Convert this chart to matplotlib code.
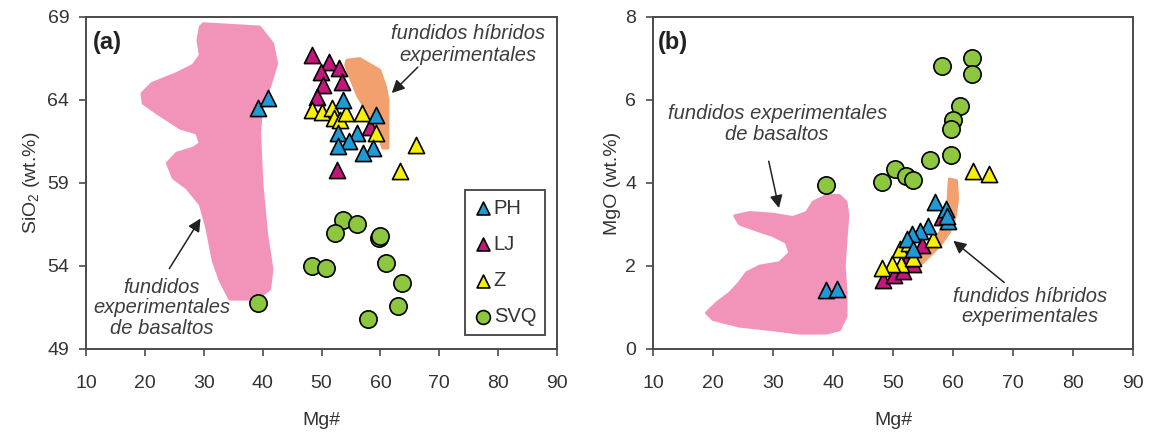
import numpy as np
import matplotlib.pyplot as plt
from matplotlib.patches import Polygon

plt.rcParams['font.family'] = ['Liberation Sans', 'DejaVu Sans']
plt.rcParams['mathtext.fontset'] = 'custom'
plt.rcParams['mathtext.rm'] = 'Liberation Sans'

# ---- panel (a): SiO2 vs Mg# ----
ph_a_mg = [39.2, 40.9, 53.7, 59.3, 52.8, 56.0, 54.6, 52.8, 58.8, 57.1]
ph_a_si = [63.5, 64.1, 64.0, 63.1, 62.0, 62.0, 61.5, 61.2, 61.1, 60.8]
lj_a_mg = [48.3, 51.2, 52.9, 49.9, 53.5, 50.2, 49.3, 52.6, 58.2]
lj_a_si = [66.7, 66.3, 65.9, 65.7, 65.1, 64.9, 64.2, 59.8, 62.4]
z_a_mg = [48.3, 50.1, 51.7, 52.2, 53.1, 54.2, 56.8, 59.3, 66.1, 63.3]
z_a_si = [63.4, 63.3, 63.5, 62.9, 62.8, 63.2, 63.2, 62.0, 61.3, 59.7]
svq_a_mg = [39.2, 53.7, 56.1, 52.3, 59.8, 60.0, 61.0, 48.3, 50.7, 63.6, 63.0, 57.9]
svq_a_si = [51.8, 56.8, 56.5, 56.0, 55.7, 55.8, 54.2, 54.0, 53.9, 53.0, 51.6, 50.8]

basalt_a_mg = [29.9, 39.5, 41.7, 42.4, 41.2, 39.9, 39.5, 39.9, 40.7, 41.6, 41.2, 39.0,
               34.4, 32.8, 31.6, 30.5, 29.4, 27.1, 24.8, 23.8, 25.4, 28.2, 29.4, 28.8,
               26.0, 22.1, 19.7, 19.5, 21.2, 25.4, 28.2, 29.4, 29.0, 29.4]
basalt_a_si = [68.6, 68.4, 67.4, 66.2, 64.8, 63.8, 62.0, 58.9, 55.9, 53.8, 52.6, 52.0,
               52.0, 53.1, 54.3, 56.3, 57.7, 58.7, 59.3, 60.2, 60.8, 61.1, 61.4, 62.0,
               62.3, 63.2, 63.8, 64.4, 65.0, 65.6, 66.1, 66.7, 67.6, 68.4]
hybrid_a_mg = [54.3, 56.5, 59.9, 60.9, 61.3, 61.3, 60.4, 59.6, 57.9, 56.2, 54.8, 54.1]
hybrid_a_si = [66.4, 66.5, 65.8, 64.8, 64.0, 61.1, 61.1, 62.0, 63.2, 64.2, 65.4, 66.1]

# ---- panel (b): MgO vs Mg# ----
ph_b_mg = [38.8, 40.6, 57.0, 58.9, 59.2, 55.9, 54.5, 53.1, 52.3, 53.4, 59.0]
ph_b_mgo = [1.41, 1.44, 3.53, 3.37, 3.09, 2.97, 2.84, 2.76, 2.64, 2.40, 3.20]
lj_b_mg = [48.3, 50.1, 51.7, 53.4, 58.1, 52.5, 54.8]
lj_b_mgo = [1.67, 1.79, 1.87, 2.04, 3.17, 2.20, 2.50]
z_b_mg = [63.3, 66.0, 56.7, 51.4, 49.8, 48.1, 51.2, 53.4, 52.6]
z_b_mgo = [4.30, 4.22, 2.64, 2.04, 2.04, 1.94, 2.40, 2.20, 2.55]
svq_b_mg = [58.1, 63.1, 63.1, 61.1, 60.0, 59.7, 59.7, 56.1, 50.4, 52.2, 53.4, 48.2, 38.9]
svq_b_mgo = [6.81, 7.01, 6.62, 5.86, 5.52, 5.31, 4.67, 4.56, 4.34, 4.18, 4.08, 4.02, 3.96]

basalt_b_mg = [23.6, 26.1, 30.0, 33.3, 35.6, 36.7, 38.9, 41.1, 42.2, 42.5, 42.2, 41.9,
               42.2, 42.2, 41.1, 38.9, 34.4, 30.0, 24.4, 20.0, 18.9, 20.6, 22.8, 24.4,
               25.6, 27.8, 31.1, 32.8, 32.2, 30.0, 26.7, 24.4]
basalt_b_mgo = [3.21, 3.29, 3.25, 3.17, 3.29, 3.54, 3.70, 3.70, 3.54, 3.21, 2.65, 2.00,
                1.35, 0.79, 0.46, 0.38, 0.38, 0.46, 0.55, 0.71, 0.87, 1.11, 1.35, 1.60,
                1.84, 2.00, 2.08, 2.32, 2.57, 2.73, 2.89, 3.01]
hybrid_b_mg = [59.4, 60.6, 60.8, 60.3, 59.4, 57.8, 56.1, 54.4, 53.3, 52.8, 54.4, 56.1,
               57.8, 58.6, 59.2, 59.3]
hybrid_b_mgo = [4.10, 4.06, 3.62, 3.13, 2.81, 2.48, 2.24, 2.00, 1.92, 2.08, 2.32, 2.57,
                2.81, 3.13, 3.62, 3.94]

x_ticks = [10, 20, 30, 40, 50, 60, 70, 80, 90]
si_ticks = [49, 54, 59, 64, 69]
mgo_ticks = [0, 2, 4, 6, 8]

c_ph = '#1F9AD6'
c_lj = '#C4177C'
c_z = '#F7F000'
c_svq = '#8DC63F'
c_pink = '#F293BA'
c_orange = '#F2A06E'
c_text = '#3C3C3C'
c_spine = '#4A4A4A'
note_size = 14.5


def style_axes(ax):
    for s in ax.spines.values():
        s.set_color(c_spine)
        s.set_linewidth(1.4)
    ax.tick_params(direction='out', length=5, width=1.2, color=c_spine,
                   labelsize=14, labelcolor='#333333')
    ax.tick_params(axis='x', pad=14)
    ax.tick_params(axis='y', pad=7)
    ax.set_xlim(10, 90)
    ax.set_xticks(x_ticks)
    ax.set_xlabel('Mg#', fontsize=14, color='#333333', labelpad=14)


def draw_points(ax, ph, lj, z, svq):
    ax.scatter(*lj, marker='^', s=135, c=c_lj, edgecolors='black', linewidths=1.2,
               zorder=3, label='LJ')
    ax.scatter(*z, marker='^', s=135, c=c_z, edgecolors='black', linewidths=1.2,
               zorder=4, label='Z')
    ax.scatter(*ph, marker='^', s=135, c=c_ph, edgecolors='black', linewidths=1.2,
               zorder=5, label='PH')
    ax.scatter(*svq, marker='o', s=155, c=c_svq, edgecolors='black', linewidths=1.2,
               zorder=3, label='SVQ')


def arrow(ax, tip, tail):
    ax.annotate('', xy=tip, xytext=tail,
                arrowprops=dict(arrowstyle='-|>', color='#222222', lw=1.1,
                                mutation_scale=19))


fig = plt.figure(figsize=(11.53, 4.37), dpi=100)
ax1 = fig.add_axes([0.0746, 0.2014, 0.4085, 0.7597])
ax2 = fig.add_axes([0.5663, 0.2014, 0.4163, 0.7597])

# panel (a)
ax1.add_patch(Polygon(np.column_stack([basalt_a_mg, basalt_a_si]), closed=True,
                      fc=c_pink, ec=c_pink, lw=2, joinstyle='round', zorder=1))
ax1.add_patch(Polygon(np.column_stack([hybrid_a_mg, hybrid_a_si]), closed=True,
                      fc=c_orange, ec=c_orange, lw=2, joinstyle='round', zorder=1))
draw_points(ax1, (ph_a_mg, ph_a_si), (lj_a_mg, lj_a_si), (z_a_mg, z_a_si),
            (svq_a_mg, svq_a_si))
style_axes(ax1)
ax1.set_ylim(49, 69)
ax1.set_yticks(si_ticks)
ax1.set_ylabel('SiO$_2$ (wt.%)', fontsize=14, color='#333333', labelpad=4)
ax1.text(0.014, 0.958, '(a)', transform=ax1.transAxes, fontsize=17,
         fontweight='bold', va='top', ha='left', color='#222222')

ax1.text(74.9, 68.6, 'fundidos híbridos\nexperimentales', ha='center', va='top',
         fontsize=note_size, style='italic', color=c_text, linespacing=1.2)
arrow(ax1, (61.6, 64.3), (66.7, 66.1))
ax1.text(22.9, 53.3, 'fundidos\nexperimentales\nde basaltos', ha='center', va='top',
         fontsize=note_size, style='italic', color=c_text, linespacing=1.1)
arrow(ax1, (29.7, 57.0), (23.9, 53.7))

handles, labels = ax1.get_legend_handles_labels()
order = [labels.index(k) for k in ['PH', 'LJ', 'Z', 'SVQ']]
leg = ax1.legend([handles[i] for i in order], [labels[i] for i in order],
                 loc='lower right', bbox_to_anchor=(0.975, 0.042), fontsize=14.5,
                 frameon=True, fancybox=False, edgecolor='#222222',
                 labelspacing=0.85, handletextpad=0.15, handlelength=0.8,
                 borderpad=0.45, borderaxespad=0, markerscale=0.8)
leg.get_frame().set_linewidth(1.4)
for t in leg.get_texts():
    t.set_color('#333333')

# panel (b)
ax2.add_patch(Polygon(np.column_stack([basalt_b_mg, basalt_b_mgo]), closed=True,
                      fc=c_pink, ec=c_pink, lw=2, joinstyle='round', zorder=1))
ax2.add_patch(Polygon(np.column_stack([hybrid_b_mg, hybrid_b_mgo]), closed=True,
                      fc=c_orange, ec=c_orange, lw=2, joinstyle='round', zorder=1))
draw_points(ax2, (ph_b_mg, ph_b_mgo), (lj_b_mg, lj_b_mgo), (z_b_mg, z_b_mgo),
            (svq_b_mg, svq_b_mgo))
style_axes(ax2)
ax2.set_ylim(0, 8)
ax2.set_yticks(mgo_ticks)
ax2.set_ylabel('MgO (wt.%)', fontsize=14, color='#333333', labelpad=3)
ax2.text(0.010, 0.958, '(b)', transform=ax2.transAxes, fontsize=17,
         fontweight='bold', va='top', ha='left', color='#222222')

ax2.text(30.7, 5.9, 'fundidos experimentales\nde basaltos', ha='center', va='top',
         fontsize=note_size, style='italic', color=c_text, linespacing=1.1)
arrow(ax2, (31.1, 3.33), (29.2, 4.59))
ax2.text(72.8, 1.5, 'fundidos híbridos\nexperimentales', ha='center', va='top',
         fontsize=note_size, style='italic', color=c_text, linespacing=1.1)
arrow(ax2, (59.7, 2.65), (68.9, 1.56))

fig.savefig('out.png', dpi=100)
